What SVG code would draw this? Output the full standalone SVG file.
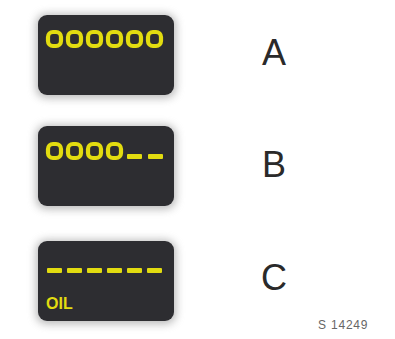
<svg xmlns="http://www.w3.org/2000/svg" width="395" height="339" viewBox="0 0 395 339">
<defs>
<filter id="sh" x="-30%" y="-30%" width="160%" height="160%">
<feGaussianBlur stdDeviation="4"/>
</filter>
<style>
.shadow{fill:#8a8a8a;opacity:0.6}
.panel{fill:#2d2d31}
.ring{fill:none;stroke:#e2dc10;stroke-width:4.2}
.dash{fill:#e2dc10}
.lbl{font-family:"Liberation Sans",Arial,sans-serif;font-size:36px;fill:#2a2a2a}
.oil{font-family:"Liberation Sans",Arial,sans-serif;font-size:16px;font-weight:bold;fill:#e2dc10}
.code{font-family:"Liberation Sans",Arial,sans-serif;font-size:12px;fill:#666;letter-spacing:0.8px}
</style>
</defs>
<rect width="395" height="339" fill="#ffffff"/>
<g id="displayA">
<rect class="shadow" x="36" y="14" width="140" height="84" rx="10" filter="url(#sh)"/>
<rect class="panel" x="38" y="15" width="136" height="80" rx="9"/>
<rect class="ring" x="48" y="32" width="13" height="14" rx="5"/>
<rect class="ring" x="68" y="32" width="13" height="14" rx="5"/>
<rect class="ring" x="88" y="32" width="13" height="14" rx="5"/>
<rect class="ring" x="108" y="32" width="13" height="14" rx="5"/>
<rect class="ring" x="128" y="32" width="13" height="14" rx="5"/>
<rect class="ring" x="148" y="32" width="13" height="14" rx="5"/>
</g>
<g id="labelA"><text class="lbl" x="262" y="65">A</text></g>
<g id="displayB">
<rect class="shadow" x="36" y="125" width="140" height="84" rx="10" filter="url(#sh)"/>
<rect class="panel" x="38" y="126" width="136" height="80" rx="9"/>
<rect class="ring" x="48" y="144" width="13" height="14" rx="5"/>
<rect class="ring" x="68" y="144" width="13" height="14" rx="5"/>
<rect class="ring" x="88" y="144" width="13" height="14" rx="5"/>
<rect class="ring" x="108" y="144" width="13" height="14" rx="5"/>
<rect class="dash" x="127" y="154" width="15" height="5" rx="1"/>
<rect class="dash" x="148" y="154" width="15" height="5" rx="1"/>
</g>
<g id="labelB"><text class="lbl" x="262" y="177">B</text></g>
<g id="displayC">
<rect class="shadow" x="36" y="240" width="140" height="84" rx="10" filter="url(#sh)"/>
<rect class="panel" x="38" y="241" width="136" height="80" rx="9"/>
<rect class="dash" x="47" y="268" width="15" height="5" rx="1"/>
<rect class="dash" x="67" y="268" width="15" height="5" rx="1"/>
<rect class="dash" x="87" y="268" width="15" height="5" rx="1"/>
<rect class="dash" x="107" y="268" width="15" height="5" rx="1"/>
<rect class="dash" x="127" y="268" width="15" height="5" rx="1"/>
<rect class="dash" x="147" y="268" width="15" height="5" rx="1"/>
<text class="oil" x="46" y="309">OIL</text>
</g>
<g id="labelC"><text class="lbl" x="261" y="290">C</text></g>
<text class="code" x="318" y="329">S 14249</text>
</svg>
